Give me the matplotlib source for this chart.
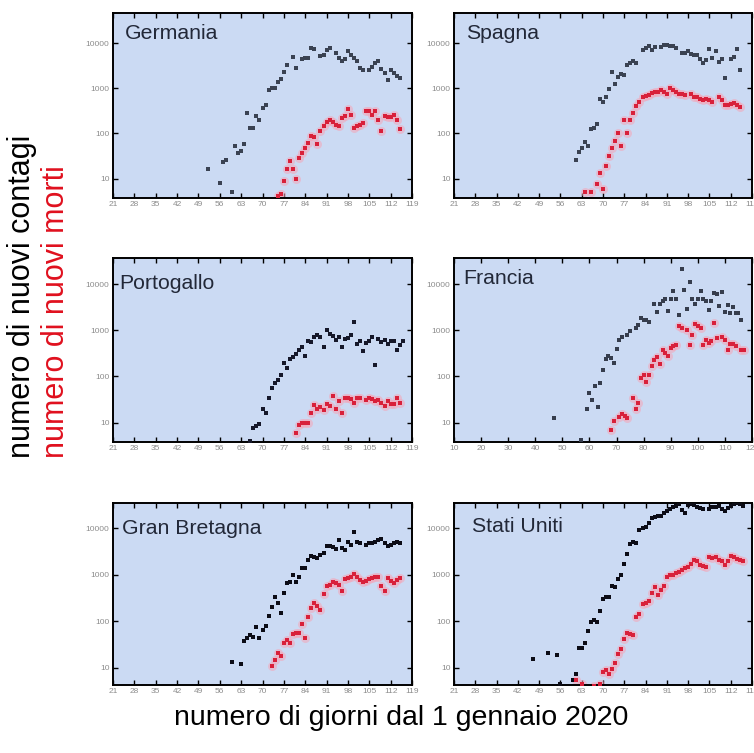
import numpy as np
import matplotlib
matplotlib.use("Agg")
import matplotlib.pyplot as plt
from matplotlib.ticker import FixedLocator, NullLocator

plt.rcParams['font.family'] = ['Liberation Sans', 'DejaVu Sans']

N = None

# Daily series: first day (days since 1 Jan 2020) and one value per day (None = no point)
de_cases_start = 52
de_cases = [16, N, N, N, 8, 23, 26, N, 5, 54, 37, 40, 59, 290, 132, 135, 250, 195, 360, 430,
            900, 1000, 1000, 1400, 1600, 2300, 3300, N, 5000, 2800, N, 4500, 4700, 4800, 7700,
            7400, N, 5300, 5500, 7100, 7700, N, 6000, 4700, 4000, 4500, 6600, 5500, 4700, 4000,
            2800, 2500, N, 2600, 3000, 3600, 4100, 2700, 2200, 1500, 2600, 2200, 1900, 1700]
de_deaths_start = 75
de_deaths = [4, 4.5, 8.7, 16, 24, 16, 10, 29, 37, 48, 61, 87, 84, 59, 112, 145, 177, 200, 177,
             156, 148, 218, 245, 350, 260, 135, 145, 156, 170, 310, 310, 260, 310, 195, 112, 240,
             230, 230, 260, 195, 126]

es_cases_start = 61
es_cases = [26, 38, 48, 64, 53, 125, 132, 165, 580, 510, 660, 960, 2360, 1250, 1780, 2100, 2000,
            3300, 3700, 4100, 3600, N, 7100, 7700, 8700, 7100, 8100, N, 8400, 9100, 9100, 8700,
            8700, 7700, N, 6000, 6000, 6900, 5800, 5500, 5500, 4500, 3600, 4300, 7400, 4700, 6600,
            3900, 4500, 1700, N, 4500, 4900, 7400, 2600]
es_deaths_start = 64
es_deaths = [5, N, 5, N, 7.4, 13, 5.9, 19, 31, 48, 67, 102, 52, 196, 105, 196, 285, 400, 510, 650,
             690, 730, 800, 820, 850, 900, 850, 760, 1000, 900, 820, 760, 760, 730, N, 740, 660,
             660, 580, 560, 580, 540, 510, N, 660, 560, 435, 435, 460, 470, 435, 385]

pt_cases_start = 66
pt_cases = [4, 7.8, 8.5, 9.2, 19.5, 16.5, 34, 56, 74, 85, 110, 195, 150, 240, 265, 310, 380, 445,
            280, 600, 550, 720, 810, 720, 445, 1000, 850, 760, 630, 720, 445, 650, 680, 810, 1490,
            510, 600, 350, 525, 600, 720, 180, 650, 550, 630, 500, 575, 575, 380, 490, 575]
pt_deaths_start = 81
pt_deaths = [6, 8.9, 9.7, 10, 10, 16, 24, 19.5, 21.5, 19, 25.5, 22.5, 38, 19.5, 29, 16.5, 35, 34,
             32, 27, 34, 34, N, 31, 34, 32, 29, 31, 27, 23, 29, 25.5, 25.5, 34, 27]

fr_cases_start = 47
fr_cases = [12.4, N, N, N, N, N, N, N, N, N, 4.2, N, 19.5, 43, 31, 63, 22, 74, 140, 240, 280, 250,
            200, 390, 630, 720, N, 810, 960, N, 1120, 1330, 1860, 1700, 1700, 1490, N, 3800, 2450,
            3800, 4300, 4700, 2600, 4700, 7200, 4900, 2100, 21400, 7500, 2950, 11100, 4900, 3800,
            4700, 7200, 4700, 4300, 2800, 4300, 6300, 6000, 3300, 6800, 2450, 3600, 2400, 3200,
            2400, 2400, 1650]
fr_deaths_start = 68
fr_deaths = [6.9, 11, N, 13.5, 15.5, 14, 12.4, N, 35, 20, 26, 91, 109, 76, 109, 170, 230, 270, 190,
             370, 325, 280, 415, 450, 490, 1260, 1120, N, 1030, 490, 810, 1350, 1260, 1120, 490,
             630, 525, 575, 1450, 680, N, 720, 630, 380, 510, 500, 465, N, 370, 380]

gb_cases_start = 60
gb_cases = [13, N, N, 12, 37.6, 44, 50, 46, 73, 44, 64, 78, 128, 205, 325, 250, 150, 410, 650, 700,
            980, 680, 910, 1380, 1380, 2100, 2500, 2360, 2240, 2630, 2870, 4150, 4150, 4000, 3550,
            5600, 3700, 3400, 5100, 4400, 8500, 5100, 4800, N, 4400, 4900, 4900, 5100, 5600, 5800,
            4800, 4150, 4400, 4800, 5100, 4800]
gb_deaths_start = 73
gb_deaths = [10.7, 14.4, 21, 17.5, 34, 39, 33, 52, 56, 56, 87, 44, 120, 187, 250, 210, 177, 380,
             570, 600, 710, 650, 600, 450, 790, 830, 910, 1030, 870, 760, 710, 740, 790, 830, 870,
             870, 570, 450, 830, 740, 650, 760, 830]

us_cases_start = 47
us_cases = [15.6, N, N, N, N, 21, N, N, 18.5, 4.4, N, N, N, 5.3, 7.4, 26, 26, 34, 62, 95, 107, 95,
            167, 295, 325, 335, 570, 550, 820, 970, 1740, 2750, 4550, 5100, 4750, 9200, 10000,
            10900, 12800, 16300, 17300, 18300, 18300, 21000, 23000, 25800, 28200, 30300, 33300,
            25000, 21000, 31500, 33300, 31500, 29300, 26900, 25800, N, 25800, 28200, 29300, 30300,
            25800, 23000, 26900, 30300, 33300, 35700, 33300, 30300]
us_deaths_start = 61
us_deaths = [5.3, N, 4.4, N, N, N, 4, N, 4.4, 8.1, 8.8, 7.4, 9.5, 12.6, 19.4, 24.5, 42, 56, 52, 50,
             120, 142, 233, 250, 275, 410, 535, 360, 465, 570, 910, 980, 980, 1070, 1150, 1260,
             1370, 1440, 1740, 2070, 2000, 1620, 1540, 1440, 2360, 2240, 2360, 2070, 1930, 1620,
             2000, 2500, 2360, 2130, 2070, 2000]

countries = ["Germania", "Spagna", "Portogallo", "Francia", "Gran Bretagna", "Stati Uniti"]
y_ticks = [10, 100, 1000, 10000]
y_tick_labels = ["10", "100", "1000", "10000"]
x_ticks_std = [21, 28, 35, 42, 49, 56, 63, 70, 77, 84, 91, 98, 105, 112, 119]
x_ticks_fr = [10, 20, 30, 40, 50, 60, 70, 80, 90, 100, 110, 120]

series = {
    "Germania": (de_cases_start, de_cases, de_deaths_start, de_deaths),
    "Spagna": (es_cases_start, es_cases, es_deaths_start, es_deaths),
    "Portogallo": (pt_cases_start, pt_cases, pt_deaths_start, pt_deaths),
    "Francia": (fr_cases_start, fr_cases, fr_deaths_start, fr_deaths),
    "Gran Bretagna": (gb_cases_start, gb_cases, gb_deaths_start, gb_deaths),
    "Stati Uniti": (us_cases_start, us_cases, us_deaths_start, us_deaths),
}

W, H = 754, 753
fig = plt.figure(figsize=(W / 100, H / 100), dpi=100)


def rect(x0, y0, x1, y1):
    return [x0 / W, 1 - y1 / H, (x1 - x0) / W, (y1 - y0) / H]


panel_px = {
    "Germania": (113, 13, 412, 198),
    "Spagna": (454, 13, 752, 198),
    "Portogallo": (113, 258, 412, 442),
    "Francia": (454, 258, 752, 442),
    "Gran Bretagna": (113, 503, 412, 685),
    "Stati Uniti": (454, 503, 752, 685),
}
ylims = {
    "Germania": (3.7, 47000), "Spagna": (3.7, 47000),
    "Portogallo": (3.8, 37000), "Francia": (3.8, 37000),
    "Gran Bretagna": (4.2, 35000), "Stati Uniti": (4.2, 35000),
}
title_pos = {
    "Germania": (0.04, 0.89), "Spagna": (0.04, 0.89),
    "Portogallo": (0.02, 0.86), "Francia": (0.03, 0.89),
    "Gran Bretagna": (0.03, 0.86), "Stati Uniti": (0.06, 0.87),
}
case_colors = {
    "Germania": "#3a4252", "Spagna": "#3a4252", "Francia": "#363d4d",
    "Portogallo": "#16182a", "Gran Bretagna": "#0c0c16", "Stati Uniti": "#0c0c16",
}
bg = "#cbdaf3"
red = "#d8203a"
halo = "#f4a6b8"


def daily(start, values):
    v = np.array([np.nan if x is None else x for x in values], dtype=float)
    d = start + np.arange(len(v))
    return d, v


for name in countries:
    ax = fig.add_axes(rect(*panel_px[name]))
    ax.set_facecolor(bg)
    cs, cv, ds, dv = series[name]
    dc, vc = daily(cs, cv)
    dd, vd = daily(ds, dv)

    ax.plot(dc, vc, ls="none", marker="s", ms=3.5, mew=0, color=case_colors[name], zorder=3)
    ax.plot(dd, vd, ls="none", marker="o", ms=6.5, mew=0, color=halo, alpha=0.55, zorder=2)
    ax.plot(dd, vd, ls="none", marker="s", ms=3.3, mew=0, color=red, zorder=4)

    ax.set_yscale("log")
    ax.set_ylim(*ylims[name])
    if name == "Francia":
        ax.set_xlim(10, 120)
        ax.xaxis.set_major_locator(FixedLocator(x_ticks_fr))
        ax.set_xticklabels([str(t) for t in x_ticks_fr])
    else:
        ax.set_xlim(21, 119)
        ax.xaxis.set_major_locator(FixedLocator(x_ticks_std))
        ax.set_xticklabels([str(t) for t in x_ticks_std])
    ax.yaxis.set_major_locator(FixedLocator(y_ticks))
    ax.set_yticklabels(y_tick_labels)
    ax.yaxis.set_minor_locator(NullLocator())

    ax.tick_params(axis="both", which="major", direction="in", length=3.5, width=1.0,
                   color="black", top=True, right=True, labelsize=6, labelcolor="#8c8c8c",
                   pad=2.5)
    for sp in ax.spines.values():
        sp.set_linewidth(1.4)
        sp.set_color("black")

    tx, ty = title_pos[name]
    ax.text(tx, ty, name, transform=ax.transAxes, fontsize=15.3, color="#222838",
            ha="left", va="center", zorder=6)

# Axis titles
fig.text(22 / W, 1 - 458 / H, "numero di nuovi contagi", rotation=90, fontsize=22,
         color="black", ha="center", va="bottom")
fig.text(56 / W, 1 - 458 / H, "numero di nuovi morti", rotation=90, fontsize=22,
         color="#e0101e", ha="center", va="bottom")
fig.text(401 / W, 1 - 718 / H, "numero di giorni dal 1 gennaio 2020", fontsize=20.5,
         color="black", ha="center", va="center")

fig.savefig("out.png", dpi=100, facecolor="white")
